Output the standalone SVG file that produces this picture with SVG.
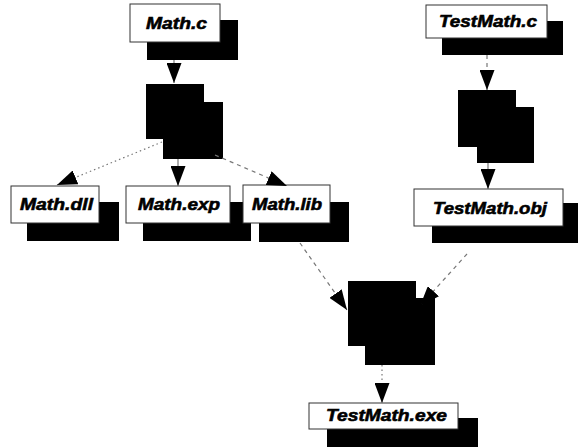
<svg xmlns="http://www.w3.org/2000/svg" width="578" height="447" viewBox="0 0 578 447">
<style>
.box{fill:#fff;stroke:#333;stroke-width:1}
.sh{fill:#000}
.lbl{font-family:"Liberation Sans",Arial,sans-serif;font-weight:bold;font-style:italic;font-size:17px;fill:#000;stroke:#000;stroke-width:0.6}
.ln{stroke:#777;stroke-width:1.2;fill:none;marker-end:url(#ah)}
.dot{stroke-dasharray:1.5 3}
.dash{stroke-dasharray:4 4}
</style>
<defs>
<marker id="ah" markerUnits="userSpaceOnUse" markerWidth="20" markerHeight="15" refX="20" refY="7.5" orient="auto">
<path d="M0,0 L20,7.5 L0,15 z" fill="#000"/>
</marker>
</defs>
<rect width="578" height="447" fill="#fff"/>
<g id="math_c">
<rect class="sh" x="147" y="20" width="91" height="40"/>
<rect class="box" x="130" y="4" width="90" height="38"/>
<text class="lbl" x="146" y="29" textLength="61" lengthAdjust="spacingAndGlyphs">Math.c</text>
</g>
<g id="compiler1">
<rect class="sh" x="146" y="84" width="58" height="55"/>
<rect class="sh" x="163" y="102" width="60" height="57"/>
</g>
<g id="math_dll">
<rect class="sh" x="27" y="202" width="92" height="39"/>
<rect class="box" x="11" y="186" width="88" height="37"/>
<text class="lbl" x="20" y="210" textLength="73" lengthAdjust="spacingAndGlyphs">Math.dll</text>
</g>
<g id="math_exp">
<rect class="sh" x="143" y="202" width="108" height="39"/>
<rect class="box" x="126" y="186" width="104" height="37"/>
<text class="lbl" x="138" y="210" textLength="82" lengthAdjust="spacingAndGlyphs">Math.exp</text>
</g>
<g id="math_lib">
<rect class="sh" x="259" y="202" width="90" height="40"/>
<rect class="box" x="243" y="185" width="87" height="38"/>
<text class="lbl" x="252" y="210" textLength="70" lengthAdjust="spacingAndGlyphs">Math.lib</text>
</g>
<g id="testmath_c">
<rect class="sh" x="442" y="21" width="121" height="34"/>
<rect class="box" x="426" y="5" width="121" height="33"/>
<text class="lbl" x="439" y="27" textLength="98" lengthAdjust="spacingAndGlyphs">TestMath.c</text>
</g>
<g id="compiler2">
<rect class="sh" x="458" y="90" width="58" height="57"/>
<rect class="sh" x="477" y="107" width="57" height="56"/>
</g>
<g id="testmath_obj">
<rect class="sh" x="432" y="203" width="146" height="40"/>
<rect class="box" x="414" y="189" width="149" height="37"/>
<text class="lbl" x="433" y="214" textLength="114" lengthAdjust="spacingAndGlyphs">TestMath.obj</text>
</g>
<g id="linker">
<rect class="sh" x="348" y="281" width="68" height="65"/>
<rect class="sh" x="365" y="298" width="70" height="67"/>
</g>
<g id="testmath_exe">
<rect class="sh" x="327" y="418" width="151" height="29"/>
<rect class="box" x="309" y="403" width="149" height="26"/>
<text class="lbl" x="326" y="421" textLength="121" lengthAdjust="spacingAndGlyphs">TestMath.exe</text>
</g>
<g id="connectors">
<line class="ln" x1="174" y1="60" x2="174" y2="83"/>
<line class="ln dot" x1="162" y1="142" x2="57" y2="185"/>
<line class="ln" x1="178" y1="159" x2="178" y2="186"/>
<line class="ln dash" x1="215" y1="155" x2="287" y2="186"/>
<line class="ln dash" x1="487" y1="55" x2="487" y2="90"/>
<line class="ln" x1="488" y1="163" x2="488" y2="189"/>
<line class="ln dash" x1="300" y1="243" x2="347" y2="310"/>
<line class="ln dash" x1="467" y1="254" x2="420" y2="306"/>
<line class="ln dot" x1="382" y1="365" x2="382" y2="403"/>
</g>
</svg>
